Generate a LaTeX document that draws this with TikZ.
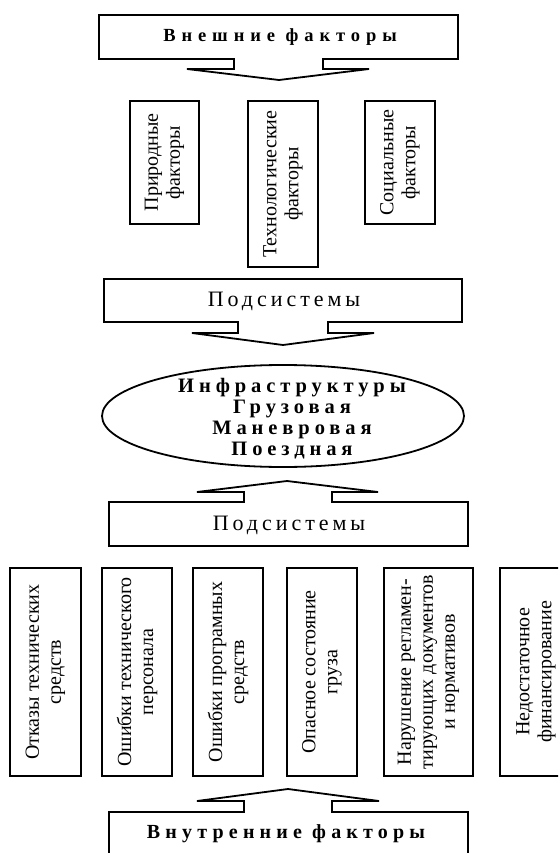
\documentclass[tikz,border=0pt]{standalone}
\usepackage{fontspec}
\setmainfont{Liberation Serif}
\newfontfamily\lsTop[LetterSpace=32]{Liberation Serif}
\newfontfamily\lsSub[LetterSpace=18]{Liberation Serif}
\newfontfamily\lsEll[LetterSpace=24]{Liberation Serif}
\newfontfamily\lsBot[LetterSpace=26]{Liberation Serif}
\begin{document}
\begin{tikzpicture}[x=1pt,y=-1pt,
  outline/.style={line width=1.8pt, line join=miter},
  fbox/.style={draw, line width=1.8pt, inner sep=0pt, outer sep=0pt},
  vtext/.style={rotate=90, align=center, inner sep=0pt, font=\fontsize{20}{22}\selectfont},
  toptext/.style={inner sep=0pt, font=\lsTop\bfseries\fontsize{18.5}{20}\selectfont},
  subtext/.style={inner sep=0pt, font=\lsSub\fontsize{22}{24}\selectfont},
  elltext/.style={inner sep=0pt, align=center, font=\lsEll\bfseries\fontsize{20.5}{21}\selectfont},
  bottext/.style={inner sep=0pt, font=\lsBot\bfseries\fontsize{20}{22}\selectfont}]
\useasboundingbox (0,0) rectangle (558,853);
\begin{scope}
\clip (0,0) rectangle (558,853);
% top box with down arrow
\draw[outline] (234,59) -- (99,59) -- (99,15) -- (458,15) -- (458,59) -- (323,59) -- (323,69) -- (369,69) -- (279,80) -- (187,69) -- (234,69) -- cycle;
\node[toptext] (ext) at (280,37) {Внешние факторы};
% external factor boxes
\node[fbox, minimum width=69pt, minimum height=123pt] (nat) at (164.5,162.5) {};
\node[vtext] (natt) at (nat.center) {Природные\\факторы};
\node[fbox, minimum width=70pt, minimum height=166pt] (tech) at (283,184) {};
\node[vtext] (techt) at (tech.center) {Технологические\\факторы};
\node[fbox, minimum width=70pt, minimum height=123pt] (soc) at (400,162.5) {};
\node[vtext] (soct) at (soc.center) {Социальные\\факторы};
% subsystems 1 with down arrow
\draw[outline] (238,322) -- (104,322) -- (104,279) -- (462,279) -- (462,322) -- (328,322) -- (328,333) -- (374,333) -- (283,345) -- (192,333) -- (238,333) -- cycle;
\node[subtext] (sub1) at (284,301) {Подсистемы};
% ellipse
\draw[line width=1.8pt] (283,416) ellipse [x radius=181, y radius=51];
\node[elltext] (infra) at (292,419) {Инфраструктуры\\Грузовая\\Маневровая\\Поездная};
% subsystems 2 with up arrow
\draw[outline] (244,502) -- (109,502) -- (109,546) -- (468,546) -- (468,502) -- (332,502) -- (332,492) -- (378,492) -- (287,481) -- (197,492) -- (244,492) -- cycle;
\node[subtext] (sub2) at (289,525) {Подсистемы};
% internal factor boxes
\node[fbox, minimum width=71pt, minimum height=208pt] (b1) at (45.5,672) {};
\node[vtext] (b1t) at (b1.center) {Отказы технических\\средств};
\node[fbox, minimum width=70pt, minimum height=208pt] (b2) at (137,672) {};
\node[vtext] (b2t) at (b2.center) {Ошибки технического\\персонала};
\node[fbox, minimum width=70pt, minimum height=208pt] (b3) at (228,672) {};
\node[vtext] (b3t) at (b3.center) {Ошибки програмных\\средств};
\node[fbox, minimum width=70pt, minimum height=208pt] (b4) at (322,672) {};
\node[vtext] (b4t) at (b4.center) {Опасное состояние\\груза};
\node[fbox, minimum width=89pt, minimum height=208pt] (b5) at (428.5,672) {};
\node[vtext] (b5t) at (b5.center) {Нарушение регламен-\\тирующих документов\\и нормативов};
\node[fbox, minimum width=72pt, minimum height=208pt] (b6) at (536,672) {};
\node[vtext] (b6t) at (b6.center) {Недостаточное\\финансирование};
% internal factors box with up arrow
\draw[outline] (244,812) -- (109,812) -- (109,880) -- (468,880) -- (468,812) -- (332,812) -- (332,801) -- (379,801) -- (288,789) -- (197,801) -- (244,801) -- cycle;
\node[bottext] (int) at (286,834) {Внутренние факторы};
\end{scope}
\end{tikzpicture}
\end{document}
